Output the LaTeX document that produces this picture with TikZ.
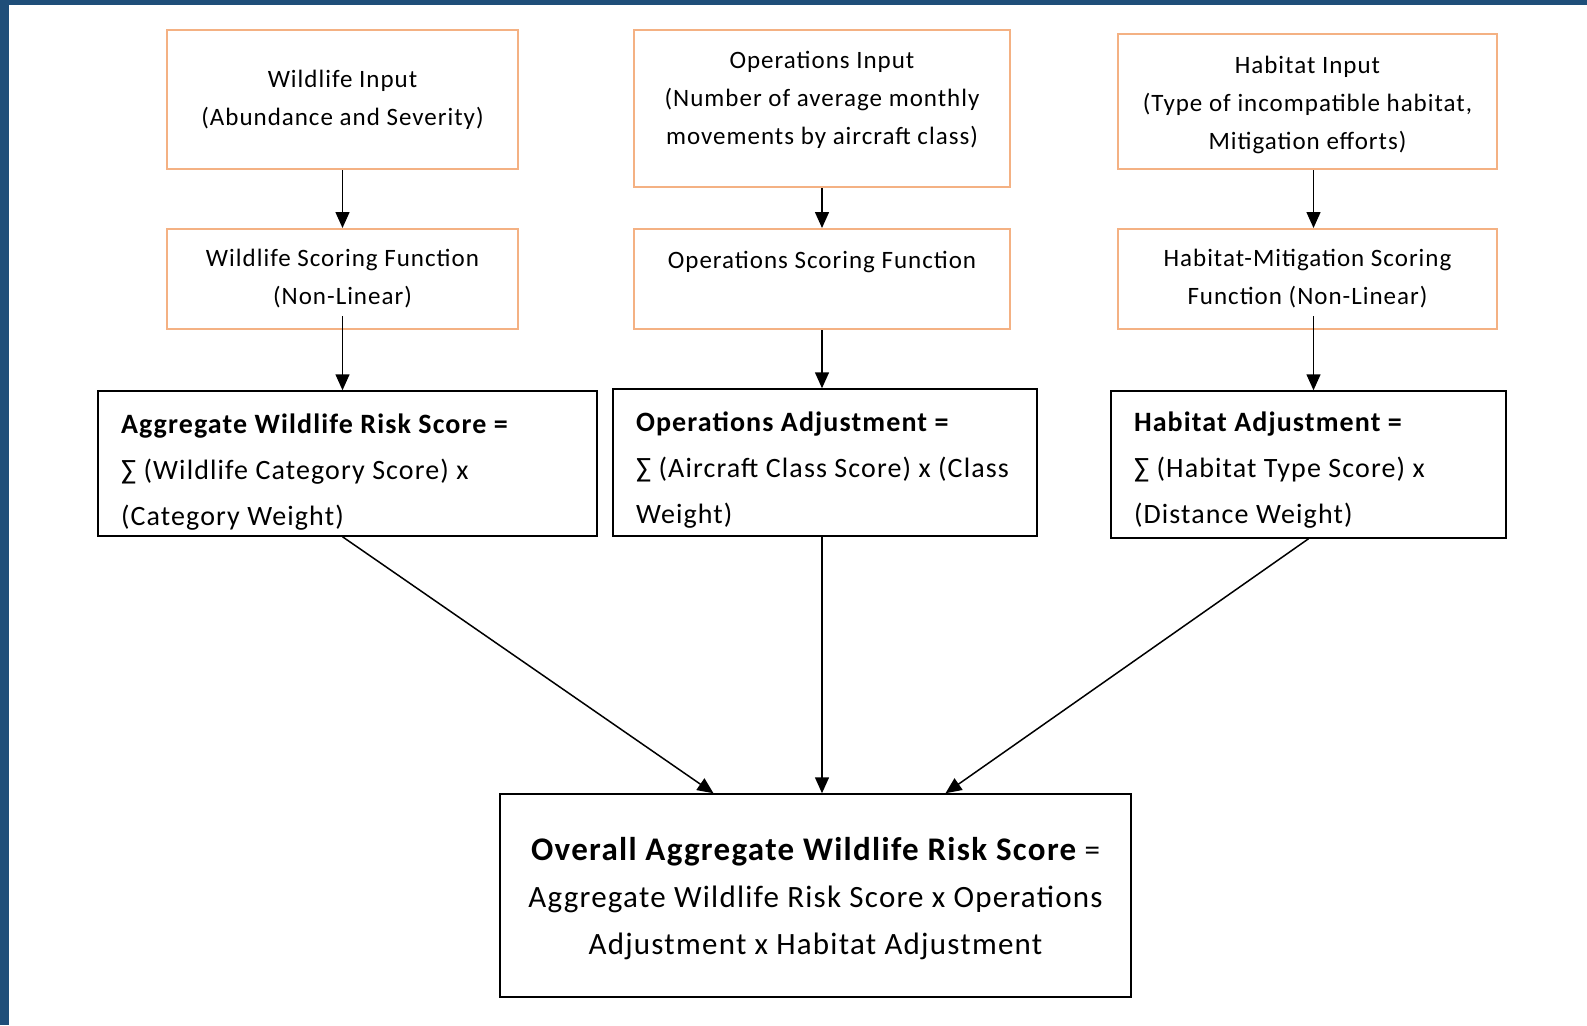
\documentclass[tikz,border=0pt]{standalone}
\usepackage{fontspec}
\setmainfont{Carlito}[LetterSpace=4, BoldFeatures={LetterSpace=4}]
\usetikzlibrary{arrows.meta, positioning}
\definecolor{frameblue}{HTML}{1F4E79}
\definecolor{boxorange}{HTML}{F4B183}
\tikzset{
    inbox/.style = {draw=boxorange, line width=2pt, align=center, inner sep=0pt, font=\fontsize{25}{38}\selectfont},
    sumbox/.style = {draw=black, line width=1.5pt, align=flush left, inner xsep=23pt, inner ysep=0pt, font=\fontsize{28}{46}\selectfont},
    outbox/.style = {draw=black, line width=1.5pt, align=center, inner sep=0pt, font=\fontsize{31}{47}\selectfont},
    arr/.style = {-{Triangle[length=16pt, width=14pt]}, line width=1.5pt}
}

\begin{document}
\begin{tikzpicture}[x=1pt, y=-1pt]
\useasboundingbox (0,0) rectangle (1587,1025);
% Frame
\fill[frameblue] (0,0) rectangle (9,1025);
\fill[frameblue] (0,0) rectangle (1587,5);

% Inputs
\node[inbox, minimum width=351pt, minimum height=139pt] (WI) at (342.5,99.5) {Wildlife Input\\(Abundance and Severity)};
\node[inbox, minimum width=376pt, minimum height=157pt] (OI) at (822,108.5) {Operations Input\\(Number of average monthly\\movements by aircraft class)\rule[-22pt]{0pt}{22pt}};
\node[inbox, minimum width=379pt, minimum height=135pt] (HI) at (1307.5,101.5) {\rule{0pt}{24pt}Habitat Input\\(Type of incompatible habitat,\\Mitigation efforts)};

% Scoring functions
\node[inbox, minimum width=351pt, minimum height=100pt] (WSF) at (342.5,279) {Wildlife Scoring Function\\(Non-Linear)};
\node[inbox, minimum width=376pt, minimum height=100pt] (OSF) at (822,279) {Operations Scoring Function\\\mbox{}};
\node[inbox, minimum width=379pt, minimum height=100pt] (HSF) at (1307.5,279) {Habitat-Mitigation Scoring\\Function (Non-Linear)};

% Adjustments
\node[sumbox, minimum width=499pt, minimum height=145pt, text width=453pt] (AWRS) at (347.5,463.5) {\rule{0pt}{36pt}\textbf{Aggregate Wildlife Risk Score =}\\∑ (Wildlife Category Score) x\\(Category Weight)};
\node[sumbox, minimum width=424pt, minimum height=147pt, text width=378pt] (OA) at (825,462.5) {\rule{0pt}{34pt}\textbf{Operations Adjustment =}\\∑ (Aircraft Class Score) x (Class\\Weight)};
\node[sumbox, minimum width=395pt, minimum height=147pt, text width=349pt] (HA) at (1308.5,464.5) {\rule{0pt}{30pt}\textbf{Habitat Adjustment =}\\∑ (Habitat Type Score) x\\(Distance Weight)};

% Overall score
\node[outbox, minimum width=631pt, minimum height=203pt] (OVR) at (815.5,895.5) {\rule{0pt}{29pt}{\fontsize{33}{47}\selectfont\bfseries\addfontfeature{LetterSpace=9}Overall Aggregate Wildlife Risk Score} =\\Aggregate Wildlife Risk Score x Operations\\Adjustment x Habitat Adjustment};

% Inputs -> scoring functions
\draw[arr] (WI) -- (WSF);
\draw[arr] (OI) -- (OSF);
\draw[arr] ([xshift=6pt]HI.south) -- ([xshift=6pt]HSF.north);

% Scoring functions -> adjustments
\draw[arr] ([yshift=14pt]WSF.south) -- (WSF.south |- AWRS.north);
\draw[arr] (OSF.south) -- (OSF.south |- OA.north);
\draw[arr] ([xshift=6pt, yshift=14pt]HSF.south) -- ([xshift=6pt]HSF.south |- HA.north);

% Adjustments -> overall
\draw[arr] (AWRS.south -| WSF) -- ([xshift=-102pt]OVR.north);
\draw[arr] (OA.south -| OSF) -- (OSF |- OVR.north);
\draw[arr] (HA.south) -- ([xshift=130pt]OVR.north);
\end{tikzpicture}
\end{document}
